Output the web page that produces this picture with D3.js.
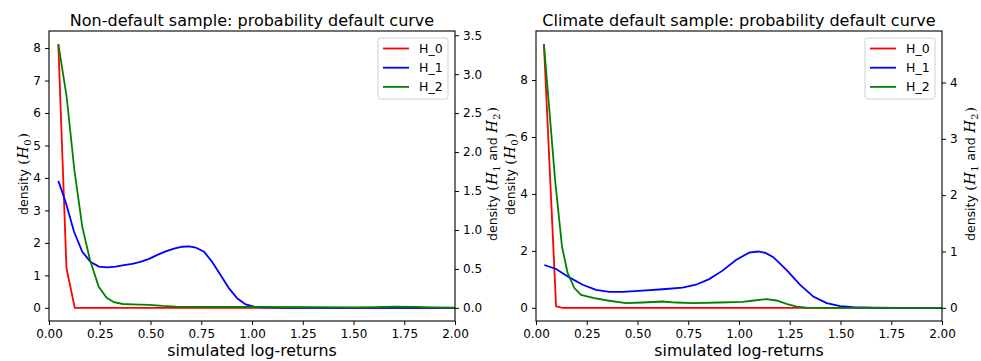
<!DOCTYPE html>
<html>
<head>
<meta charset="utf-8">
<script src="https://cdn.jsdelivr.net/npm/d3@7"></script>
<style>
    body { margin: 0; background: #fff; }
    svg { display: block; font-family: "DejaVu Sans", sans-serif; }
</style>
</head>
<body>
<svg id="chart" width="981" height="361"></svg>
<script>

// x ticks shared by both panels
var xTicks = [0, 0.25, 0.5, 0.75, 1.0, 1.25, 1.5, 1.75, 2.0];
var seriesNames = ["H_0", "H_1", "H_2"];
var seriesColors = ["#ff0000", "#0000ff", "#008000"];

// Non-default sample, [log-return, density]
var ndH0 = [[0.046, 8.12], [0.086, 1.22], [0.127, 0], [0.5, 0], [1.0, 0], [1.5, 0], [2.0, 0]];
var ndH1 = [[0.046, 1.63], [0.082, 1.36], [0.123, 0.98], [0.164, 0.72], [0.205, 0.59], [0.246, 0.53],
    [0.287, 0.52], [0.328, 0.53], [0.369, 0.55], [0.41, 0.565], [0.45, 0.59], [0.493, 0.63],
    [0.534, 0.68], [0.575, 0.725], [0.616, 0.76], [0.657, 0.785], [0.69, 0.79], [0.722, 0.775],
    [0.764, 0.72], [0.804, 0.59], [0.846, 0.42], [0.887, 0.25], [0.928, 0.12], [0.969, 0.045],
    [1.01, 0.015], [1.05, 0.006], [1.2, 0.002], [1.5, 0.001], [2.0, 0.001]];
var ndH2 = [[0.046, 3.385], [0.087, 2.71], [0.125, 1.77], [0.164, 1.04], [0.202, 0.615], [0.245, 0.27],
    [0.284, 0.13], [0.32, 0.073], [0.363, 0.05], [0.41, 0.045], [0.493, 0.038], [0.56, 0.025],
    [0.624, 0.017], [0.755, 0.012], [1.0, 0.012], [1.25, 0.008], [1.5, 0.006], [1.6, 0.01],
    [1.7, 0.016], [1.8, 0.012], [1.9, 0.006], [2.0, 0.003]];
var ndLeftTicks = [0, 1, 2, 3, 4, 5, 6, 7, 8];
var ndRightTicks = [0, 0.5, 1.0, 1.5, 2.0, 2.5, 3.0, 3.5];

// Climate default sample
var cdH0 = [[0.039, 9.26], [0.099, 0.05], [0.13, 0], [0.5, 0], [1.0, 0], [1.5, 0], [2.0, 0]];
var cdH1 = [[0.041, 0.76], [0.099, 0.69], [0.164, 0.54], [0.23, 0.41], [0.296, 0.32], [0.361, 0.284],
    [0.427, 0.284], [0.525, 0.307], [0.624, 0.33], [0.722, 0.36], [0.788, 0.41], [0.853, 0.51],
    [0.919, 0.66], [0.985, 0.85], [1.05, 0.98], [1.095, 1.0], [1.13, 0.975], [1.169, 0.9],
    [1.235, 0.67], [1.3, 0.41], [1.366, 0.2], [1.432, 0.083], [1.498, 0.03], [1.563, 0.012],
    [1.66, 0.003], [1.8, 0], [2.0, 0]];
var cdH2 = [[0.039, 4.68], [0.066, 3.5], [0.094, 2.27], [0.128, 1.09], [0.156, 0.615], [0.189, 0.35],
    [0.222, 0.23], [0.287, 0.17], [0.353, 0.13], [0.443, 0.083], [0.525, 0.094], [0.623, 0.112],
    [0.69, 0.094], [0.772, 0.083], [0.903, 0.094], [1.018, 0.106], [1.075, 0.13], [1.136, 0.154],
    [1.185, 0.13], [1.234, 0.07], [1.283, 0.023], [1.333, 0.005], [1.4, 0], [2.0, 0]];
var cdLeftTicks = [0, 2, 4, 6, 8];
var cdRightTicks = [0, 1, 2, 3, 4];

var svg = d3.select("#chart");

// matplotlib-like autoscale: 5% margin on each side
function padded(series) {
    var vals = [];
    series.forEach(function (s) { s.forEach(function (p) { vals.push(p[1]); }); });
    var ext = d3.extent(vals);
    var m = (ext[1] - ext[0]) * 0.05;
    return [ext[0] - m, ext[1] + m];
}

// rotated label built from pieces: strings = sans text, {p:..} = serif paren, {sub:..} = italic H with subscript
function mathLabel(parent, cx, cy, parts) {
    var outer = parent.append("g").attr("transform", "translate(" + cx + "," + cy + ") rotate(-90)");
    var inner = outer.append("g");
    var pos = 0;
    var serif = "'DejaVu Serif', serif";

    function piece(txt, dx, dy, size, family, style) {
        var t = inner.append("text").attr("x", pos + dx).attr("y", dy)
            .attr("font-size", size).style("white-space", "pre").text(txt);
        if (family) t.attr("font-family", family);
        if (style) t.attr("font-style", style);
        pos += dx + t.node().getComputedTextLength();
    }

    parts.forEach(function (p) {
        if (typeof p === "string") {
            piece(p, 0, 0, 12.5);
        } else if (p.p) {
            piece(p.p, 0.5, 0, 13.5, serif);
        } else {
            piece("H", 0.5, 0, 14.5, serif, "italic");
            piece(p.sub, 0.5, 3, 10, serif);
            pos += 0.5;
        }
    });
    inner.attr("transform", "translate(" + (-pos / 2) + ",4.5)");
}

function drawPanel(cfg) {

    var g = svg.append("g");
    var x0 = cfg.left, x1 = cfg.left + 406, top = 31, bottom = 321;

    var x = d3.scaleLinear().domain([0, 2]).range([x0, x1]);
    var yL = d3.scaleLinear().domain(padded([cfg.h0])).range([bottom, top]);
    var yR = d3.scaleLinear().domain(padded([cfg.h1, cfg.h2])).range([bottom, top]);

    var clipId = "clip" + cfg.id;
    g.append("clipPath").attr("id", clipId)
        .append("rect").attr("x", x0).attr("y", top).attr("width", x1 - x0).attr("height", bottom - top);

    var lineL = d3.line().x(function (d) { return x(d[0]); }).y(function (d) { return yL(d[1]); });
    var lineR = d3.line().x(function (d) { return x(d[0]); }).y(function (d) { return yR(d[1]); });

    var plot = g.append("g").attr("clip-path", "url(#" + clipId + ")");
    plot.append("path").datum(cfg.h0).attr("d", lineL)
        .attr("fill", "none").attr("stroke", seriesColors[0]).attr("stroke-width", 1.8);
    plot.append("path").datum(cfg.h1).attr("d", lineR)
        .attr("fill", "none").attr("stroke", seriesColors[1]).attr("stroke-width", 1.8);
    plot.append("path").datum(cfg.h2).attr("d", lineR)
        .attr("fill", "none").attr("stroke", seriesColors[2]).attr("stroke-width", 1.8);

    // axes
    var xAxis = d3.axisBottom(x).tickValues(xTicks).tickFormat(d3.format(".2f")).tickSize(4).tickPadding(4);
    var lAxis = d3.axisLeft(yL).tickValues(cfg.leftTicks).tickFormat(cfg.leftFmt).tickSize(4).tickPadding(4);
    var rAxis = d3.axisRight(yR).tickValues(cfg.rightTicks).tickFormat(cfg.rightFmt).tickSize(4).tickPadding(4);

    [
        g.append("g").attr("transform", "translate(0," + bottom + ")").call(xAxis),
        g.append("g").attr("transform", "translate(" + x0 + ",0)").call(lAxis),
        g.append("g").attr("transform", "translate(" + x1 + ",0)").call(rAxis)
    ].forEach(function (a) {
        a.select(".domain").remove();
        a.selectAll("text").attr("font-family", "'DejaVu Sans', sans-serif").attr("font-size", 12).attr("fill", "#000");
        a.selectAll("line").attr("stroke", "#000").attr("stroke-width", 1);
    });

    g.append("rect").attr("x", x0).attr("y", top).attr("width", x1 - x0).attr("height", bottom - top)
        .attr("fill", "none").attr("stroke", "#000").attr("stroke-width", 1.1);

    // title + labels
    g.append("text").attr("x", (x0 + x1) / 2).attr("y", 25.5).attr("text-anchor", "middle")
        .attr("font-size", 16).text(cfg.title);

    g.append("text").attr("x", (x0 + x1) / 2).attr("y", 356).attr("text-anchor", "middle")
        .attr("font-size", 15.8).text("simulated log-returns");

    var ly = (top + bottom) / 2 - 2;
    mathLabel(g, x0 - 26, ly, ["density ", { p: "(" }, { sub: "0" }, { p: ")" }]);
    mathLabel(g, x1 + cfg.rightLabelOff, ly, ["density ", { p: "(" }, { sub: "1" }, " and ", { sub: "2" }, { p: ")" }]);

    // legend
    var lg = g.append("g").attr("transform", "translate(" + (x1 - 77) + "," + (top + 7) + ")");
    lg.append("rect").attr("width", 70).attr("height", 61).attr("rx", 2.5)
        .attr("fill", "#fff").attr("fill-opacity", 0.8).attr("stroke", "#d0d0d0").attr("stroke-width", 1);
    seriesNames.forEach(function (name, i) {
        var yy = 10.5 + i * 19.2;
        lg.append("line").attr("x1", 5).attr("x2", 31).attr("y1", yy).attr("y2", yy)
            .attr("stroke", seriesColors[i]).attr("stroke-width", 1.8);
        lg.append("text").attr("x", 41).attr("y", yy + 4.5).attr("font-size", 12.5).text(name);
    });
}

drawPanel({
    id: "nd", left: 49, rightLabelOff: 37,
    title: "Non-default sample: probability default curve",
    h0: ndH0, h1: ndH1, h2: ndH2,
    leftTicks: ndLeftTicks, rightTicks: ndRightTicks,
    leftFmt: d3.format("d"), rightFmt: d3.format(".1f")
});

drawPanel({
    id: "cd", left: 536, rightLabelOff: 28,
    title: "Climate default sample: probability default curve",
    h0: cdH0, h1: cdH1, h2: cdH2,
    leftTicks: cdLeftTicks, rightTicks: cdRightTicks,
    leftFmt: d3.format("d"), rightFmt: d3.format("d")
});

</script>
</body>
</html>
